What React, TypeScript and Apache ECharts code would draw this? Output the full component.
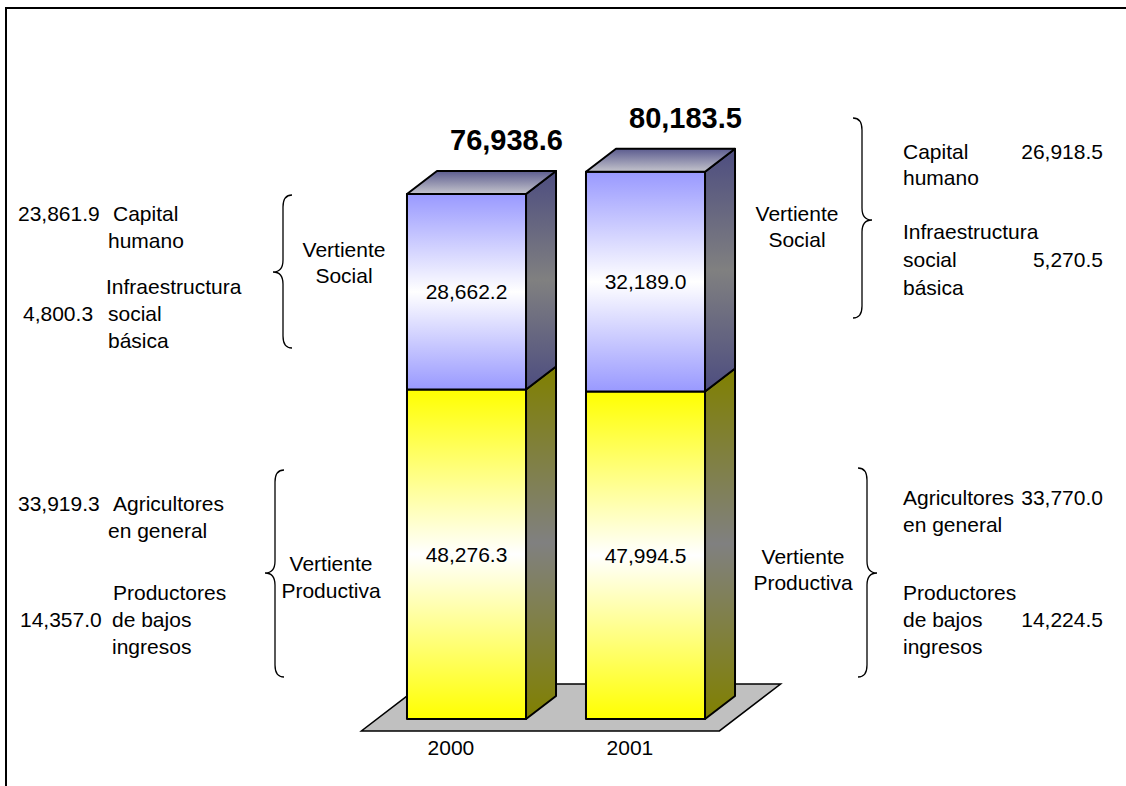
import React, { useEffect, useRef } from "react";
import * as echarts from "echarts";

// Presupuesto por vertiente (millones de pesos)
const categories = ["2000", "2001"];
const productiva = [48276.3, 47994.5];
const social = [28662.2, 32189.0];
const totals = [76938.6, 80183.5];

// Desglose de cada vertiente
const capitalHumano = [23861.9, 26918.5];
const infraestructura = [4800.3, 5270.5];
const agricultores = [33919.3, 33770.0];
const productores = [14357.0, 14224.5];

const FONT = '"Liberation Sans", Arial, sans-serif';
const FS = 21;
// oblique depth of the 3D boxes
const DX = 30;
const DY = -23;

const fmt = (v: number) =>
  v.toLocaleString("en-US", { minimumFractionDigits: 1, maximumFractionDigits: 1 });

const vgrad = (stops: [number, string][]) =>
  new echarts.graphic.LinearGradient(
    0,
    0,
    0,
    1,
    stops.map(([offset, color]) => ({ offset, color }))
  );

function bracePath(tipX: number, spineX: number, endX: number, y0: number, y1: number, ym: number) {
  const r = 12;
  return (
    `M${endX},${y0} Q${spineX},${y0} ${spineX},${y0 + r} ` +
    `L${spineX},${ym - r} Q${spineX},${ym} ${tipX},${ym} ` +
    `Q${spineX},${ym} ${spineX},${ym + r} ` +
    `L${spineX},${y1 - r} Q${spineX},${y1} ${endX},${y1}`
  );
}

let registered = false;
function registerBraces() {
  if (registered) return;
  registered = true;
  echarts.graphic.registerShape("braceLS", echarts.graphic.extendPath(bracePath(273, 283, 292, 195, 348, 272), {}));
  echarts.graphic.registerShape("braceLP", echarts.graphic.extendPath(bracePath(265, 275, 284, 470, 677, 573), {}));
  echarts.graphic.registerShape("braceRS", echarts.graphic.extendPath(bracePath(872, 862, 853, 118, 318, 220), {}));
  echarts.graphic.registerShape("braceRP", echarts.graphic.extendPath(bracePath(877, 867, 858, 468, 677, 573), {}));
}

const txt = (text: string, x: number, y: number, align: string = "left") => ({
  type: "text",
  x,
  y,
  z: 10,
  style: { text, fill: "#000", fontSize: FS, fontFamily: FONT, align, verticalAlign: "middle" },
});

const brace = (type: string) => ({
  type,
  x: 0,
  y: 0,
  z: 10,
  style: { fill: "none", stroke: "#000", lineWidth: 1.3 },
});

function makeBox(
  frontFill: any,
  sideFill: any,
  topFill: any,
  withTop: boolean,
  labelValues: number[],
  totalLabels: number[] | null
) {
  return (params: any, api: any) => {
    const i = api.value(0);
    const base = api.coord([i, api.value(1)]);
    const top = api.coord([i, api.value(2)]);
    const w = api.size([1, 0])[0] * 0.665;
    const x0 = base[0] - w / 2;
    const x1 = base[0] + w / 2;
    const yb = base[1];
    const yt = top[1];
    const edge = { stroke: "#000", lineWidth: 2, lineJoin: "round" };
    const children: any[] = [
      {
        type: "polygon",
        shape: { points: [[x1, yb], [x1, yt], [x1 + DX, yt + DY], [x1 + DX, yb + DY]] },
        style: { fill: sideFill, ...edge },
      },
      {
        type: "rect",
        shape: { x: x0, y: yt, width: w, height: yb - yt },
        style: { fill: frontFill, ...edge },
      },
      {
        type: "text",
        style: {
          text: fmt(labelValues[params.dataIndex]),
          x: base[0],
          y: (yb + yt) / 2,
          align: "center",
          verticalAlign: "middle",
          fontSize: FS,
          fontFamily: FONT,
          fill: "#000",
        },
      },
    ];
    if (withTop) {
      children.push({
        type: "polygon",
        shape: { points: [[x0, yt], [x1, yt], [x1 + DX, yt + DY], [x0 + DX, yt + DY]] },
        style: { fill: topFill, ...edge },
      });
    }
    if (totalLabels) {
      children.push({
        type: "text",
        style: {
          text: fmt(totalLabels[params.dataIndex]),
          x: base[0] + 40,
          y: yt - 54,
          align: "center",
          verticalAlign: "middle",
          fontSize: 29,
          fontWeight: "bold",
          fontFamily: FONT,
          fill: "#000",
        },
      });
    }
    return { type: "group", children };
  };
}

export default function App() {
  const ref = useRef<HTMLDivElement>(null);

  useEffect(() => {
    if (!ref.current) return;
    registerBraces();
    const chart = echarts.init(ref.current, null, { renderer: "svg" });

    const floorRender = (params: any, api: any) => {
      const band = api.size([1, 0])[0];
      const a = api.coord([0, 0]);
      const b = api.coord([categories.length - 1, 0]);
      const left = a[0] - band / 2;
      const right = b[0] + band / 2;
      const y = a[1];
      const t0 = -0.52;
      const t1 = 1.52;
      const children: any[] = [
        {
          type: "polygon",
          shape: {
            points: [
              [left + t0 * DX, y + t0 * DY],
              [right + t0 * DX, y + t0 * DY],
              [right + t1 * DX, y + t1 * DY],
              [left + t1 * DX, y + t1 * DY],
            ],
          },
          style: { fill: "#c0c0c0", stroke: "#000", lineWidth: 1.5 },
        },
      ];
      categories.forEach((c, i) => {
        const p = api.coord([i, 0]);
        children.push({
          type: "text",
          style: {
            text: c,
            x: p[0] + t0 * DX,
            y: p[1] + t0 * DY + 17,
            align: "center",
            verticalAlign: "middle",
            fontSize: FS,
            fontFamily: FONT,
            fill: "#000",
          },
        });
      });
      return { type: "group", children };
    };

    const option: any = {
      animation: false,
      backgroundColor: "#ffffff",
      grid: { left: 377, width: 358, top: 36.6, bottom: 67 },
      xAxis: { type: "category", data: categories, show: false },
      yAxis: { type: "value", min: 0, max: 100000, show: false },
      series: [
        {
          type: "custom",
          name: "piso",
          data: [[0, 0]],
          encode: { x: 0, y: 1 },
          renderItem: floorRender,
          z: 1,
        },
        {
          type: "custom",
          name: "Vertiente Productiva",
          data: categories.map((_, i) => [i, 0, productiva[i]]),
          encode: { x: 0, y: [1, 2] },
          renderItem: makeBox(
            vgrad([[0, "#ffff00"], [0.5, "#ffffff"], [1, "#ffff00"]]),
            vgrad([[0, "#808000"], [0.5, "#808080"], [1, "#808000"]]),
            "#ffff00",
            false,
            productiva,
            null
          ),
          z: 2,
        },
        {
          type: "custom",
          name: "Vertiente Social",
          data: categories.map((_, i) => [i, productiva[i], productiva[i] + social[i]]),
          encode: { x: 0, y: [1, 2] },
          renderItem: makeBox(
            vgrad([[0, "#9999ff"], [0.5, "#ffffff"], [1, "#9999ff"]]),
            vgrad([[0, "#4d4d80"], [0.5, "#808080"], [1, "#4d4d80"]]),
            vgrad([[0, "#5c5c8f"], [1, "#c4c4cc"]]),
            true,
            social,
            totals
          ),
          z: 3,
        },
      ],
      graphic: [
        {
          type: "rect",
          z: 0,
          shape: { x: 6, y: 8, width: 1140, height: 800 },
          style: { fill: "none", stroke: "#000", lineWidth: 2 },
        },
        // izquierda, vertiente social (2000)
        txt(fmt(capitalHumano[0]), 18, 213),
        txt("Capital", 113, 213),
        txt("humano", 108, 240),
        txt("Infraestructura", 106, 286),
        txt(fmt(infraestructura[0]), 23, 313),
        txt("social", 108, 313),
        txt("básica", 108, 340),
        brace("braceLS"),
        txt("Vertiente", 344, 249, "center"),
        txt("Social", 344, 275, "center"),
        // izquierda, vertiente productiva (2000)
        txt(fmt(agricultores[0]), 18, 503),
        txt("Agricultores", 113, 503),
        txt("en general", 108, 530),
        txt("Productores", 113, 592),
        txt(fmt(productores[0]), 20, 619),
        txt("de bajos", 112, 619),
        txt("ingresos", 112, 646),
        brace("braceLP"),
        txt("Vertiente", 331, 563, "center"),
        txt("Productiva", 331, 590, "center"),
        // derecha, vertiente social (2001)
        txt("Vertiente", 797, 213, "center"),
        txt("Social", 797, 239, "center"),
        brace("braceRS"),
        txt("Capital", 903, 151),
        txt(fmt(capitalHumano[1]), 1103, 151, "right"),
        txt("humano", 903, 177),
        txt("Infraestructura", 903, 231),
        txt("social", 903, 259),
        txt(fmt(infraestructura[1]), 1103, 259, "right"),
        txt("básica", 903, 287),
        // derecha, vertiente productiva (2001)
        txt("Vertiente", 803, 556, "center"),
        txt("Productiva", 803, 582, "center"),
        brace("braceRP"),
        txt("Agricultores", 903, 497),
        txt(fmt(agricultores[1]), 1103, 497, "right"),
        txt("en general", 903, 524),
        txt("Productores", 903, 592),
        txt("de bajos", 903, 619),
        txt(fmt(productores[1]), 1103, 619, "right"),
        txt("ingresos", 903, 646),
      ],
    };

    chart.setOption(option);
    return () => chart.dispose();
  }, []);

  return (
    <div
      ref={ref}
      style={{ position: "fixed", left: 0, top: 0, width: 1126, height: 786, background: "#fff" }}
    />
  );
}
